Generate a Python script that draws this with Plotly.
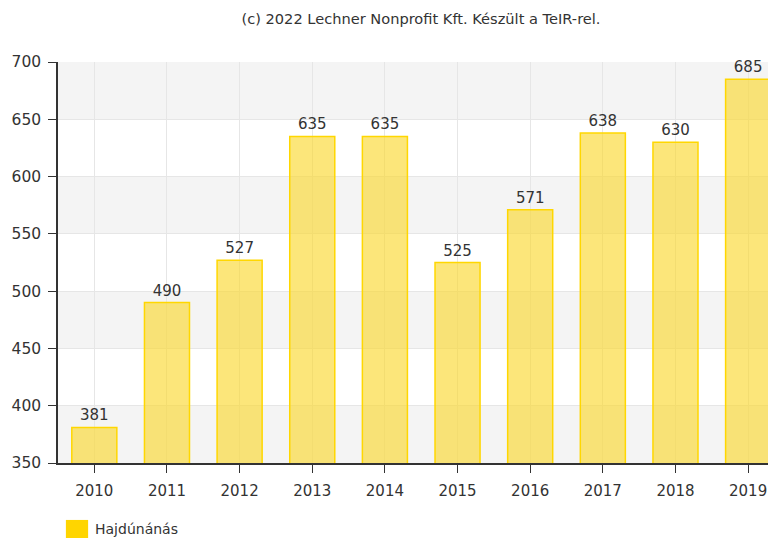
import plotly.graph_objects as go

# Data
years = ['2010', '2011', '2012', '2013', '2014', '2015', '2016', '2017', '2018', '2019']
values = [381, 490, 527, 635, 635, 525, 571, 638, 630, 685]
y_ticks = [350, 400, 450, 500, 550, 600, 650, 700]
series_name = 'Hajdúnánás'

font_family = 'Verdana, DejaVu Sans, sans-serif'

fig = go.Figure()

fig.add_trace(go.Bar(
    x=years,
    y=values,
    name=series_name,
    marker=dict(color='rgba(250, 215, 40, 0.62)',
                line=dict(color='#FFD700', width=1.5)),
    text=values,
    textposition='outside',
    textfont=dict(size=15, color='#333333', family=font_family),
    cliponaxis=False,
    showlegend=False,
))

# Alternating background bands
shapes = []
for lo, hi in zip(y_ticks[:-1], y_ticks[1:]):
    if (lo // 50) % 2 == 1:
        shapes.append(dict(type='rect', xref='paper', yref='y', x0=0, x1=1,
                           y0=lo, y1=hi, fillcolor='#f4f4f4', line_width=0,
                           layer='below'))

# Hand-drawn legend (big solid swatch + label)
shapes.append(dict(type='rect', xref='paper', yref='paper',
                   x0=0.011, x1=0.042, y0=-0.187, y1=-0.142,
                   fillcolor='#FFD500', line_width=0))
annotations = [dict(text=series_name, xref='paper', yref='paper',
                    x=0.049, y=-0.1646, xanchor='left', yanchor='middle',
                    showarrow=False,
                    font=dict(size=14, color='#333333', family=font_family))]

# page body adds an 8px margin, so the figure is a bit smaller than the window
fig.update_layout(
    width=768, height=531,
    margin=dict(l=50, r=1, t=54, b=76),
    paper_bgcolor='white',
    plot_bgcolor='white',
    bargap=0.38,
    shapes=shapes,
    annotations=annotations,
    showlegend=False,
    font=dict(family=font_family, color='#333333'),
    title=dict(text='(c) 2022 Lechner Nonprofit Kft. Készült a TeIR-rel.',
               x=(421 - 8) / 768, xanchor='center',
               y=1 - (19 - 8) / 531, yanchor='middle',
               font=dict(size=14.6, color='#333333', family=font_family)),
    xaxis=dict(
        range=[-0.5, 9.37],
        showgrid=True, gridcolor='#e6e6e6', gridwidth=1,
        showline=True, linecolor='#333333', linewidth=1.5,
        ticks='outside', ticklen=8, tickcolor='#333333',
        ticklabelstandoff=5,
        tickfont=dict(size=15, color='#333333'),
    ),
    yaxis=dict(
        range=[350, 700],
        tickvals=y_ticks,
        showgrid=True, gridcolor='#e6e6e6', gridwidth=1,
        showline=True, linecolor='#333333', linewidth=1.5,
        ticks='outside', ticklen=8, tickcolor='#333333',
        ticklabelstandoff=4,
        tickfont=dict(size=15.5, color='#333333'),
        zeroline=False,
    ),
)

fig.write_html("out.html")
